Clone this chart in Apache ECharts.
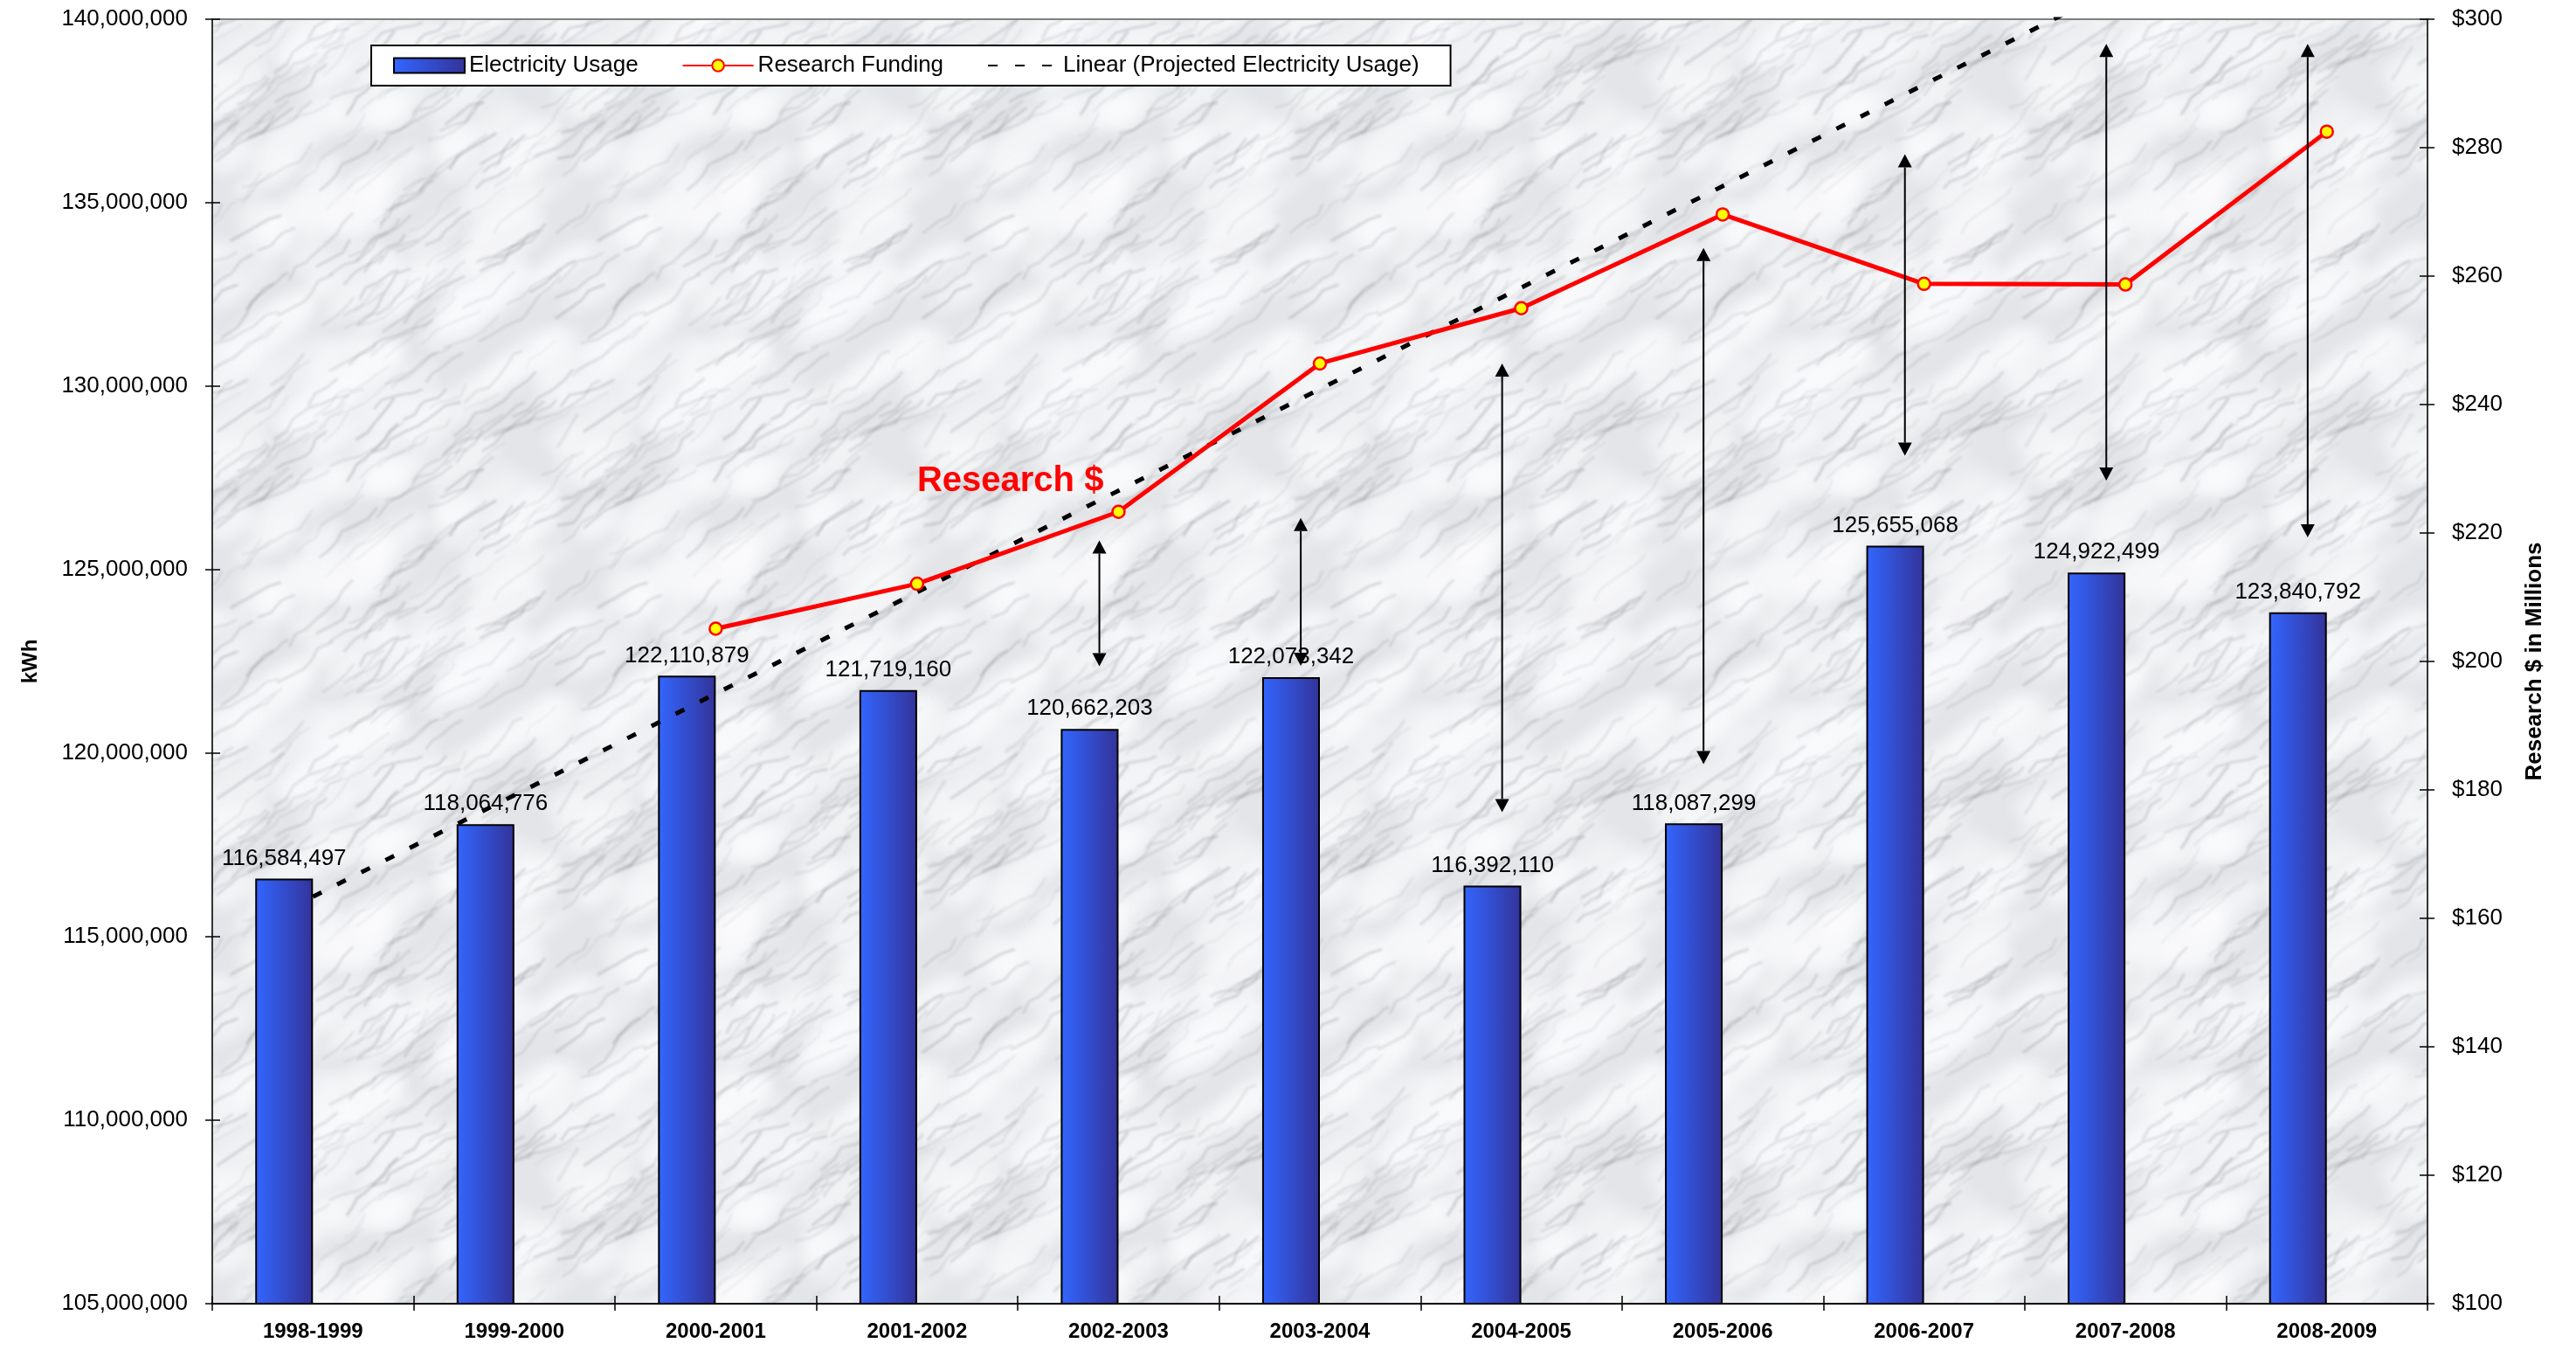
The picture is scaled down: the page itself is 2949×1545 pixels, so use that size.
<!DOCTYPE html>
<html>
<head>
<meta charset="utf-8">
<title>Electricity Usage vs Research Funding</title>
<script src="https://cdn.jsdelivr.net/npm/echarts@6/dist/echarts.min.js"></script>
<style>
  html, body { margin: 0; padding: 0; background: #fff; }
  #chart { width: 2949px; height: 1545px; }
</style>
</head>
<body>
<div id="chart"></div>
<script>
// data
const categories = ['1998-1999', '1999-2000', '2000-2001', '2001-2002', '2002-2003', '2003-2004',
  '2004-2005', '2005-2006', '2006-2007', '2007-2008', '2008-2009']
const electricityUsage = [116584497, 118064776, 122110879, 121719160, 120662203, 122073342,
  116392110, 118087299, 125655068, 124922499, 123840792]
const researchFunding = ['-', '-', 205.1, 212.1, 223.3, 246.4, 255.0, 269.6, 258.8, 258.7, 282.5]
// linear trend of the projected usage: only its two ends, the rest is drawn straight
const projectedTrend = [116090000, '-', '-', '-', '-', '-', '-', '-', '-', '-', 143750000]

const kwhMin = 105000000
const kwhMax = 140000000
const kwhStep = 5000000
const dollarMin = 100
const dollarMax = 300
const dollarStep = 20

// double-headed arrows (kWh scale)
const arrowCats = ['2002-2003', '2003-2004', '2004-2005', '2005-2006', '2006-2007', '2007-2008', '2008-2009']
const arrowTops = [125800000, 126410000, 130620000, 133770000, 136320000, 139330000, 139330000]
const arrowBottoms = [122370000, 122380000, 118390000, 119700000, 128110000, 127430000, 125880000]

const FONT = "'Liberation Sans', Arial, sans-serif"

// marble-ish backdrop for the plot area
const makeMarble = () => {
  const size = 420
  const c = document.createElement('canvas')
  c.width = size
  c.height = size
  const g = c.getContext('2d')
  g.fillStyle = '#e3e5e8'
  g.fillRect(0, 0, size, size)
  let seed = 4242
  const next = () => {
    seed = (seed * 16807) % 2147483647
    return seed / 2147483647
  }
  const wrapDraw = (fn) => {
    for (const dx of [-size, 0, size]) {
      for (const dy of [-size, 0, size]) fn(dx, dy)
    }
  }
  g.filter = 'blur(8px)'
  for (let i = 0; i < 80; i++) {
    const x = next() * size, y = next() * size
    const rx = 20 + next() * 50, ry = 8 + next() * 20
    const a = 0.35 + next() * 0.45
    wrapDraw((dx, dy) => {
      g.fillStyle = `rgba(250,251,252,${a})`
      g.beginPath()
      g.ellipse(x + dx, y + dy, rx, ry, -0.6, 0, Math.PI * 2)
      g.fill()
    })
  }
  g.filter = 'blur(1.8px)'
  for (let i = 0; i < 150; i++) {
    const pts = []
    let x = next() * size, y = next() * size
    pts.push([x, y])
    const steps = 3 + Math.floor(next() * 5)
    for (let k = 0; k < steps; k++) {
      x += 5 + next() * 14
      y -= 3 + next() * 12
      pts.push([x, y])
    }
    const alpha = 0.1 + next() * 0.25
    const w = 0.8 + next() * 2
    wrapDraw((dx, dy) => {
      g.strokeStyle = `rgba(110,115,125,${alpha})`
      g.lineWidth = w
      g.beginPath()
      pts.forEach((p, k) => (k ? g.lineTo(p[0] + dx, p[1] + dy) : g.moveTo(p[0] + dx, p[1] + dy)))
      g.stroke()
    })
  }
  g.filter = 'none'
  return c
}

const chart = echarts.init(document.getElementById('chart'), null, { renderer: 'canvas' })

// left bright blue, right navy, as in the reference bars
const barFill = new echarts.graphic.LinearGradient(0, 0, 1, 0, [
  { offset: 0, color: '#3366ff' },
  { offset: 1, color: '#333399' },
])

const fmtThousands = (v) => Number(v).toLocaleString('en-US')

const arrowItem = (params, api) => {
  const band = api.size([1, 0])[0]
  const top = api.coord([api.value(0), api.value(1)])
  const bottom = api.coord([api.value(0), api.value(2)])
  const x = top[0] - band * 0.095
  const hw = 8
  const hh = 15
  return {
    type: 'group',
    children: [
      {
        type: 'line',
        shape: { x1: x, y1: top[1] + hh, x2: x, y2: bottom[1] - hh },
        style: { stroke: '#000', lineWidth: 2 },
      },
      {
        type: 'polygon',
        shape: { points: [[x, top[1]], [x - hw, top[1] + hh], [x + hw, top[1] + hh]] },
        style: { fill: '#000' },
      },
      {
        type: 'polygon',
        shape: { points: [[x, bottom[1]], [x - hw, bottom[1] - hh], [x + hw, bottom[1] - hh]] },
        style: { fill: '#000' },
      },
    ],
  }
}

const yBase = (extra) => Object.assign({
  type: 'value',
  splitLine: { show: false },
}, extra)

chart.setOption({
  animation: false,
  backgroundColor: '#ffffff',
  textStyle: { fontFamily: FONT, color: '#000' },
  grid: {
    left: 243,
    top: 22,
    right: 170,
    bottom: 53,
    show: true,
    backgroundColor: { image: makeMarble(), repeat: 'repeat' },
    borderColor: '#808080',
    borderWidth: 2,
    outerBoundsMode: 'none',
  },
  legend: {
    data: [
      { name: 'Electricity Usage', icon: 'rect' },
      { name: 'Research Funding' },
      { name: 'Linear (Projected Electricity Usage)', itemStyle: { opacity: 0 } },
    ],
    left: 425,
    top: 52,
    padding: [10, 36, 10, 25],
    backgroundColor: '#ffffff',
    borderColor: '#000',
    borderWidth: 2,
    borderRadius: 0,
    itemWidth: 81,
    itemHeight: 17,
    itemGap: 50,
    textStyle: { fontSize: 26, fontFamily: FONT, color: '#000' },
  },
  xAxis: [
    {
      type: 'category',
      data: categories,
      position: 'bottom',
      axisLine: { lineStyle: { color: '#000', width: 2 } },
      axisTick: { show: true, length: 8, interval: 0, lineStyle: { color: '#000', width: 1.5 } },
      axisLabel: { fontSize: 24, fontWeight: 'bold', color: '#000', margin: 20, interval: 0 },
    },
    {
      type: 'category',
      data: categories,
      position: 'bottom',
      offset: 0,
      axisLine: { show: false },
      axisTick: { show: true, inside: true, length: 9, interval: 0, lineStyle: { color: '#000', width: 1.5 } },
      axisLabel: { show: false },
    },
  ],
  yAxis: [
    yBase({
      position: 'left',
      min: kwhMin,
      max: kwhMax,
      interval: kwhStep,
      name: 'kWh',
      nameLocation: 'middle',
      nameRotate: 90,
      nameGap: 196,
      nameTextStyle: { fontSize: 24, fontWeight: 'bold', color: '#000' },
      axisLine: { show: true, lineStyle: { color: '#333', width: 2 } },
      axisTick: { show: true, length: 8, lineStyle: { color: '#000', width: 1.5 } },
      axisLabel: { fontSize: 26, color: '#000', margin: 28, formatter: fmtThousands },
    }),
    yBase({
      position: 'right',
      min: dollarMin,
      max: dollarMax,
      interval: dollarStep,
      name: 'Research $ in Millions',
      nameLocation: 'middle',
      nameRotate: 90,
      nameGap: 110,
      nameTextStyle: { fontSize: 26, fontWeight: 'bold', color: '#000' },
      axisLine: { show: true, lineStyle: { color: '#333', width: 2 } },
      axisTick: { show: true, length: 8, lineStyle: { color: '#000', width: 1.5 } },
      axisLabel: { fontSize: 26, color: '#000', margin: 28, formatter: (v) => '$' + v },
    }),
    yBase({
      position: 'left',
      offset: 0,
      min: kwhMin,
      max: kwhMax,
      interval: kwhStep,
      axisLine: { show: false },
      axisTick: { show: true, inside: true, length: 9, lineStyle: { color: '#000', width: 1.5 } },
      axisLabel: { show: false },
    }),
    yBase({
      position: 'right',
      offset: 0,
      min: dollarMin,
      max: dollarMax,
      interval: dollarStep,
      axisLine: { show: false },
      axisTick: { show: true, inside: true, length: 9, lineStyle: { color: '#000', width: 1.5 } },
      axisLabel: { show: false },
    }),
  ],
  series: [
    {
      name: 'Electricity Usage',
      type: 'bar',
      data: electricityUsage,
      yAxisIndex: 0,
      barGap: '0%',
      barCategoryGap: '42.7%',
      itemStyle: { color: barFill, borderColor: '#000', borderWidth: 2 },
      label: {
        show: true,
        position: 'top',
        distance: 10,
        fontSize: 26,
        color: '#000',
        formatter: (p) => fmtThousands(p.value),
      },
      z: 2,
    },
    {
      // empty slot: Excel leaves room for a second bar, so each bar sits left of its tick label
      name: 'slot',
      type: 'bar',
      data: [],
      yAxisIndex: 0,
      barGap: '0%',
      barCategoryGap: '42.7%',
    },
    {
      name: 'Linear (Projected Electricity Usage)',
      type: 'line',
      data: projectedTrend,
      yAxisIndex: 0,
      connectNulls: true,
      symbol: 'none',
      clip: true,
      lineStyle: { color: '#000', width: 5, type: [11, 20] },
      itemStyle: { color: '#000' },
      z: 3,
    },
    {
      name: 'Research Funding',
      type: 'line',
      data: researchFunding,
      yAxisIndex: 1,
      symbol: 'circle',
      symbolSize: 14,
      lineStyle: { color: '#ff0000', width: 5 },
      itemStyle: { color: '#ffff00', borderColor: '#ff0000', borderWidth: 2.5 },
      markPoint: {
        symbolSize: 0,
        silent: true,
        data: [
          {
            coord: ['2001-2002', 228],
            label: {
              show: true,
              formatter: 'Research $',
              position: 'inside',
              align: 'left',
              verticalAlign: 'middle',
              fontSize: 40,
              fontWeight: 'bold',
              color: '#ff0000',
            },
          },
        ],
      },
      z: 4,
    },
    {
      name: 'arrows',
      type: 'custom',
      yAxisIndex: 0,
      renderItem: arrowItem,
      encode: { x: 0, y: [1, 2] },
      data: arrowCats.map((c, i) => [c, arrowTops[i], arrowBottoms[i]]),
      silent: true,
      z: 6,
    },
  ],
})
</script>
</body>
</html>
